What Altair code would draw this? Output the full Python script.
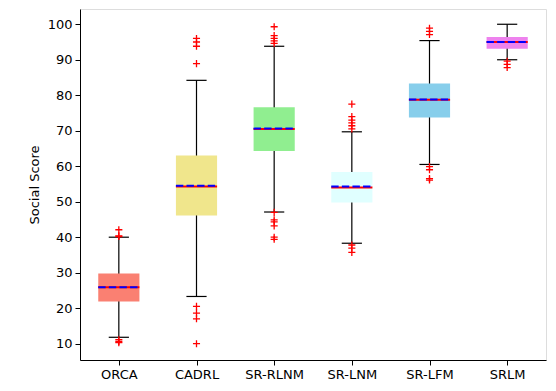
import altair as alt
import pandas as pd

categories = ["ORCA", "CADRL", "SR-RLNM", "SR-LNM", "SR-LFM", "SRLM"]
colors = ["#FA8072", "#F0E68C", "#90EE90", "#E0FFFF", "#87CEEB", "#EE82EE"]
q1 = [21.9, 46.1, 64.3, 49.8, 73.7, 93.1]
q3 = [29.8, 63.0, 76.6, 58.4, 83.3, 96.4]
medians = [25.9, 54.3, 70.5, 54.0, 78.7, 95.0]
means = [25.9, 54.5, 70.6, 54.3, 78.8, 95.0]
whisker_lo = [11.8, 23.3, 47.1, 38.3, 60.5, 90.0]
whisker_hi = [40.0, 84.2, 93.8, 69.7, 95.4, 100.0]
outliers = {
    "ORCA": [42.1, 40.4, 40.2, 11.1, 10.6, 10.3],
    "CADRL": [96.0, 95.0, 93.8, 88.9, 20.5, 18.6, 17.0, 10.0],
    "SR-RLNM": [99.3, 96.8, 96.0, 95.3, 94.6, 47.0, 44.9, 44.3, 43.2, 40.0, 39.4],
    "SR-LNM": [77.5, 74.0, 73.0, 72.2, 71.4, 70.5, 37.8, 36.9, 35.7],
    "SR-LFM": [98.9, 98.0, 97.1, 59.9, 59.0, 56.5, 56.1],
    "SRLM": [89.6, 88.7, 87.8],
}

summary = pd.DataFrame({
    "cat": categories,
    "pos": list(range(1, len(categories) + 1)),
    "q1": q1, "q3": q3, "median": medians, "mean": means,
    "lo": whisker_lo, "hi": whisker_hi,
})
out_rows = []
for i, c in enumerate(categories):
    for v in outliers[c]:
        out_rows.append({"cat": c, "pos": i + 1, "value": v})
out_df = pd.DataFrame(out_rows)

BOX_HALF = 0.265
CAP_HALF = 0.13

xscale = alt.Scale(domain=[0.5, 6.5], nice=False, zero=False)
yscale = alt.Scale(domain=[5.4, 104.3], nice=False, zero=False)
label_expr = "[" + ",".join(f"'{c}'" for c in categories) + "][datum.value - 1]"

x_axis = alt.Axis(values=list(range(1, 7)), labelExpr=label_expr, title=None,
                  grid=False, tickColor="black", domainColor="black",
                  labelColor="black", tickSize=5, labelFontSize=13,
                  labelFont="DejaVu Sans", labelPadding=3,
                  labelOverlap=False, labelFlush=False)
y_axis = alt.Axis(values=list(range(10, 101, 10)), title="Social Score",
                  grid=False, tickColor="black", domainColor="black",
                  labelColor="black", tickSize=5, labelFontSize=13,
                  labelFont="DejaVu Sans", titleFont="DejaVu Sans",
                  titleFontSize=13, titleFontWeight="normal", titleColor="black",
                  labelPadding=3, titlePadding=6,
                  labelOverlap=False, labelFlush=False)


def X(field):
    return alt.X(field, scale=xscale, axis=x_axis)


def Y(field):
    return alt.Y(field, scale=yscale, axis=y_axis)


base = alt.Chart(summary).transform_calculate(
    bl=f"datum.pos - {BOX_HALF}", br=f"datum.pos + {BOX_HALF}",
    cl=f"datum.pos - {CAP_HALF}", cr=f"datum.pos + {CAP_HALF}",
)

whisker = base.mark_rule(color="black", strokeWidth=1.2).encode(
    x=X("pos:Q"), y=Y("lo:Q"), y2="hi:Q")
cap_lo = base.mark_rule(color="black", strokeWidth=1.2).encode(
    x=X("cl:Q"), x2="cr:Q", y=Y("lo:Q"))
cap_hi = base.mark_rule(color="black", strokeWidth=1.2).encode(
    x=X("cl:Q"), x2="cr:Q", y=Y("hi:Q"))
box = base.mark_rect(strokeWidth=0).encode(
    x=X("bl:Q"), x2="br:Q", y=Y("q1:Q"), y2="q3:Q",
    color=alt.Color("cat:N", scale=alt.Scale(domain=categories, range=colors), legend=None),
)
median = base.mark_rule(color="red", strokeWidth=2).encode(
    x=X("bl:Q"), x2="br:Q", y=Y("median:Q"))
mean = base.mark_rule(color="blue", strokeWidth=2, strokeDash=[7.4, 3.2]).encode(
    x=X("bl:Q"), x2="br:Q", y=Y("mean:Q"))
fliers = alt.Chart(out_df).mark_point(
    shape="M-1,0L1,0M0,-1L0,1", size=50, color="red", strokeWidth=1.3,
    filled=False, opacity=1
).encode(x=X("pos:Q"), y=Y("value:Q"))

chart = alt.layer(whisker, cap_lo, cap_hi, box, median, mean, fliers).properties(
    width=540, height=375,
    autosize=alt.AutoSizeParams(type="fit", contains="padding"),
    padding={"left": 20, "top": 1, "right": 2, "bottom": 2},
).configure_view(stroke="black", strokeWidth=1).configure(background="white")

chart.save("out.html", embed_options={"renderer": "svg", "actions": False})
